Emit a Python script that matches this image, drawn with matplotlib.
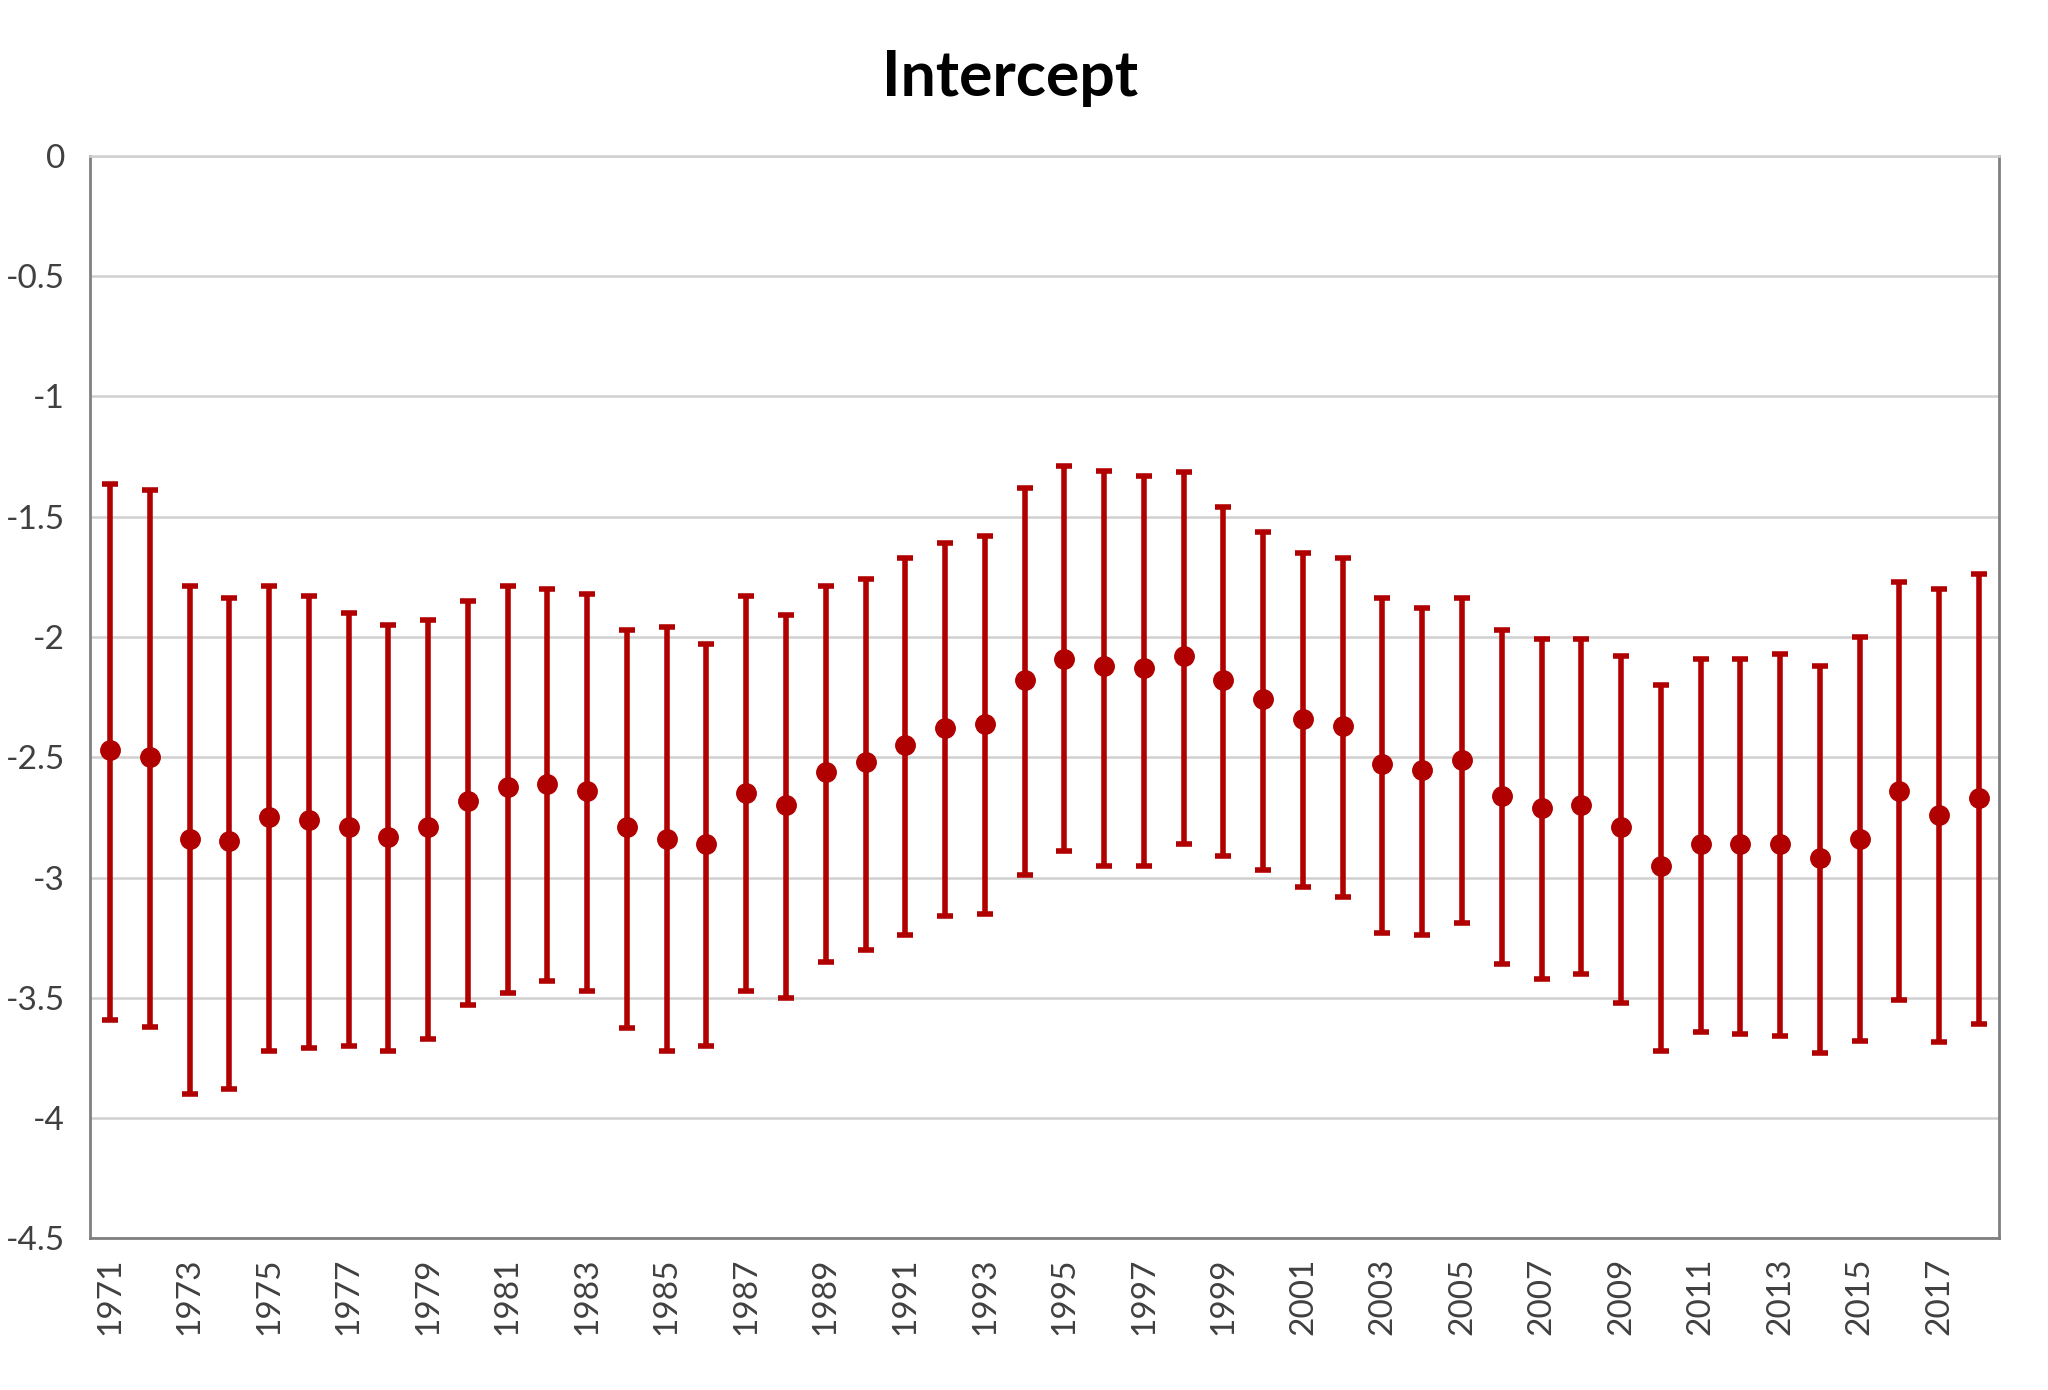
import matplotlib
matplotlib.use("Agg")
import matplotlib.pyplot as plt
import numpy as np

years = list(range(1971, 2019))
estimate = [-2.47, -2.50, -2.84, -2.85, -2.75, -2.76, -2.79, -2.83, -2.79, -2.68,
            -2.625, -2.61, -2.64, -2.79, -2.84, -2.86, -2.65, -2.70, -2.56, -2.52,
            -2.45, -2.38, -2.36, -2.18, -2.09, -2.12, -2.13, -2.08, -2.18, -2.26,
            -2.34, -2.37, -2.53, -2.555, -2.51, -2.66, -2.71, -2.70, -2.79, -2.95,
            -2.86, -2.86, -2.86, -2.92, -2.84, -2.64, -2.74, -2.67]
upper = [-1.364, -1.39, -1.79, -1.84, -1.79, -1.83, -1.90, -1.95, -1.93, -1.85,
         -1.79, -1.80, -1.82, -1.97, -1.96, -2.03, -1.83, -1.91, -1.79, -1.76,
         -1.67, -1.61, -1.58, -1.38, -1.29, -1.31, -1.33, -1.315, -1.46, -1.565,
         -1.65, -1.67, -1.84, -1.88, -1.84, -1.97, -2.01, -2.01, -2.08, -2.20,
         -2.09, -2.09, -2.07, -2.12, -2.00, -1.77, -1.80, -1.74]
lower = [-3.59, -3.62, -3.90, -3.88, -3.72, -3.71, -3.70, -3.72, -3.67, -3.53,
         -3.48, -3.43, -3.47, -3.625, -3.72, -3.70, -3.47, -3.50, -3.35, -3.30,
         -3.24, -3.16, -3.15, -2.99, -2.89, -2.95, -2.95, -2.86, -2.91, -2.97,
         -3.04, -3.08, -3.23, -3.24, -3.19, -3.36, -3.42, -3.40, -3.52, -3.72,
         -3.64, -3.65, -3.66, -3.73, -3.68, -3.51, -3.685, -3.61]
title = "Intercept"
yticks = [0, -0.5, -1, -1.5, -2, -2.5, -3, -3.5, -4, -4.5]
ytick_labels = ["0", "-0.5", "-1", "-1.5", "-2", "-2.5", "-3", "-3.5", "-4", "-4.5"]

plt.rcParams['font.family'] = ['Lato', 'DejaVu Sans']

color = '#B00000'
fig = plt.figure(figsize=(20.48, 13.9), dpi=100)
ax = fig.add_axes([0.044, 0.109, 0.932, 0.779])

x = np.arange(len(years))
est = np.array(estimate)
up = np.array(upper)
lo = np.array(lower)
ax.errorbar(x, est, yerr=[est - lo, up - est], fmt='o', color=color,
            ecolor=color, elinewidth=4, capsize=6, capthick=4,
            markersize=14, zorder=3)

ax.set_xlim(-0.5, len(years) - 0.5)
ax.set_ylim(-4.5, 0)
ax.set_yticks(yticks)
ax.set_yticklabels(ytick_labels)
ax.yaxis.grid(True, color='#D0D0D0', linewidth=1.8, zorder=0)
ax.set_axisbelow(True)

ax.set_xticks(x[::2])
ax.set_xticklabels([str(y) for y in years[::2]], rotation=90)
ax.tick_params(axis='both', length=0, labelsize=24, colors='#404040')
ax.tick_params(axis='x', pad=14)
ax.tick_params(axis='y', pad=18)

for s in ['left', 'bottom', 'right']:
    ax.spines[s].set_color('#808080')
    ax.spines[s].set_linewidth(2)
ax.spines['top'].set_color('#D0D0D0')
ax.spines['top'].set_linewidth(1.8)

fig.text(0.493, 1 - 78 / 1390, title, ha='center', va='center',
         fontsize=45, fontweight='bold', color='black')

fig.savefig('out.png', dpi=100, facecolor='white')
